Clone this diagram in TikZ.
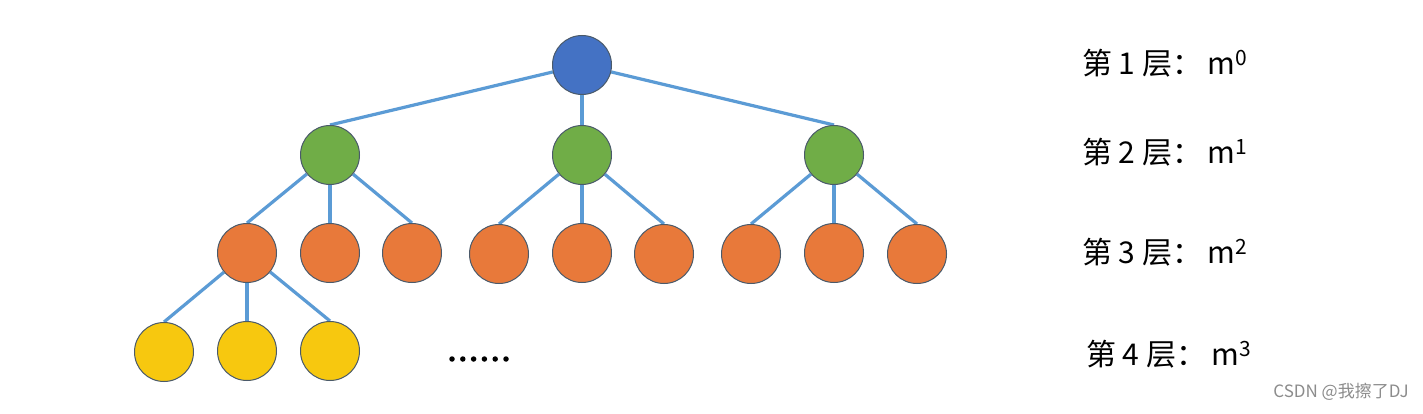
\documentclass[tikz,border=0pt]{standalone}
\usepackage{fontspec}
\setmainfont{Noto Sans CJK SC}
\newfontfamily\cjk{Noto Sans CJK SC}
\pgfdeclarelayer{bg}
\pgfsetlayers{bg,main}
\begin{document}
\begin{tikzpicture}[x=1pt,y=-1pt,
  nd/.style={circle,draw=outl,line width=1pt,minimum size=59pt,inner sep=0pt},
  lv1/.style={nd,fill=blue1},
  lv2/.style={nd,fill=green1},
  lv3/.style={nd,fill=orange1},
  lv4/.style={nd,fill=yellow1},
  edge/.style={draw=edgeblue,line width=3.2pt},
  lab/.style={anchor=west,font=\fontsize{30}{32}\selectfont\cjk,inner sep=0pt},
  dot/.style={circle,fill=black,inner sep=0pt,minimum size=5.5pt}]
\definecolor{blue1}{HTML}{4472C4}
\definecolor{green1}{HTML}{70AD47}
\definecolor{orange1}{HTML}{E8793A}
\definecolor{yellow1}{HTML}{F7C80F}
\definecolor{edgeblue}{HTML}{5B9BD5}
\definecolor{outl}{HTML}{4A5A6A}
\useasboundingbox (0,0) rectangle (1423,414);
% nodes
\node[lv1] (r) at (582,65) {};
\node[lv2] (a) at (330,155) {};
\node[lv2] (b) at (582,155) {};
\node[lv2] (c) at (834,155) {};
\node[lv3] (a1) at (247,253) {};
\node[lv3] (a2) at (330,253) {};
\node[lv3] (a3) at (412,253) {};
\node[lv3] (b1) at (499,254) {};
\node[lv3] (b2) at (582,253) {};
\node[lv3] (b3) at (664,254) {};
\node[lv3] (c1) at (751,254) {};
\node[lv3] (c2) at (834,253) {};
\node[lv3] (c3) at (917,254) {};
\node[lv4] (d1) at (164,352) {};
\node[lv4] (d2) at (247,351) {};
\node[lv4] (d3) at (330,351) {};
% background and edges
\begin{pgfonlayer}{bg}
\fill[white] (0,0) rectangle (1423,414);
\foreach \p/\c in {r/a,r/b,r/c,a/a1,a/a2,a/a3,b/b1,b/b2,b/b3,c/c1,c/c2,c/c3,a1/d1,a1/d2,a1/d3}{
  \path[edge] (\p) -- (\c.north);
}
\end{pgfonlayer}
% dots
\foreach \i in {0,...,5}{
  \node[dot] (dt\i) at (452+10.8*\i,359) {};
}
% labels
\node[lab] (l1) at (1082,63) {第 1 层：\,m\textsuperscript{0}};
\node[lab] (l2) at (1082,152) {第 2 层：\,m\textsuperscript{1}};
\node[lab] (l3) at (1082,252) {第 3 层：\,m\textsuperscript{2}};
\node[lab] (l4) at (1086,354) {第 4 层：\,m\textsuperscript{3}};
\node[anchor=east,font=\fontsize{17}{18}\selectfont\cjk,text=black!45,inner sep=0pt] (wm) at (1409,392) {CSDN @我擦了DJ};
\end{tikzpicture}
\end{document}
